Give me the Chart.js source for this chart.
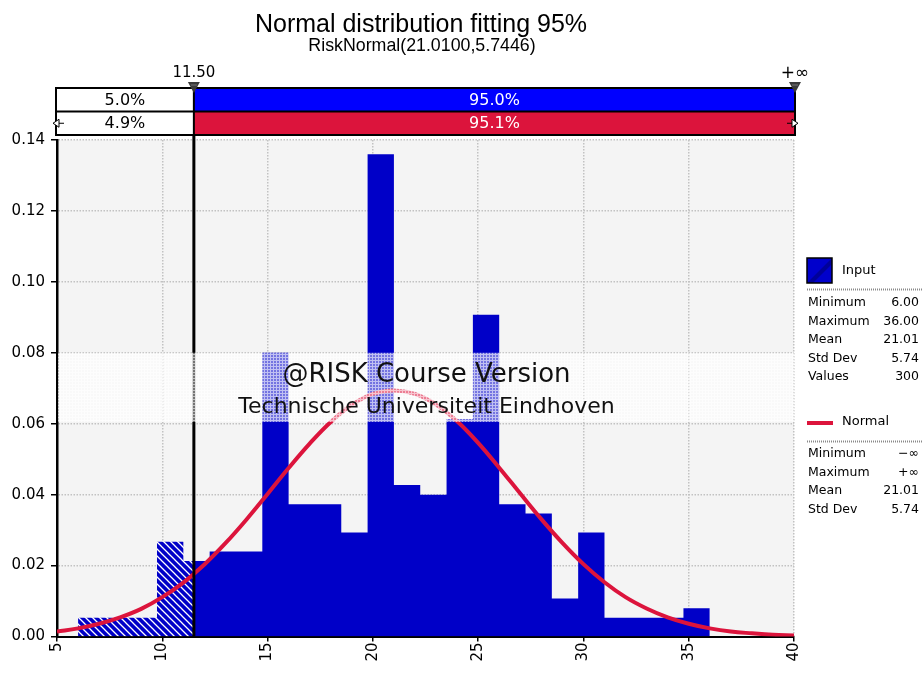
<!DOCTYPE html>
<html><head><meta charset="utf-8">
<script src="https://cdn.jsdelivr.net/npm/chart.js@4/dist/chart.umd.min.js"></script>
<style>html,body{margin:0;padding:0;background:#fff;overflow:hidden}#wrap{width:923px;height:673px;position:relative}</style>
</head><body><div id="wrap"><canvas id="c" width="923" height="673"></canvas></div>
<script>
// ---- data ----
const chartTitle = 'Normal distribution fitting 95%';
const chartSubtitle = 'RiskNormal(21.0100,5.7446)';
const binEdges = [6, 7.25, 8.5, 9.75, 11, 12.25, 13.5, 14.75, 16, 17.25, 18.5, 19.75, 21, 22.25, 23.5, 24.75, 26, 27.25, 28.5, 29.75, 31, 32.25, 33.5, 34.75, 36];
const binDensity = [0.0053, 0.0053, 0.0053, 0.0267, 0.0213, 0.0240, 0.0240, 0.0800, 0.0373, 0.0373, 0.0293, 0.1360, 0.0427, 0.0400, 0.0613, 0.0907, 0.0373, 0.0347, 0.0107, 0.0293, 0.0053, 0.0053, 0.0053, 0.0080];
const fitX = [5, 6, 7, 8, 9, 10, 11, 12, 13, 14, 15, 16, 17, 18, 19, 20, 21, 22, 23, 24, 25, 26, 27, 28, 29, 30, 31, 32, 33, 34, 35, 36, 37, 38, 39, 40];
const fitY = [0.0014, 0.0023, 0.0036, 0.0054, 0.0078, 0.0111, 0.0152, 0.0203, 0.0263, 0.0330, 0.0402, 0.0475, 0.0544, 0.0605, 0.0653, 0.0684, 0.0694, 0.0684, 0.0654, 0.0607, 0.0546, 0.0476, 0.0403, 0.0331, 0.0264, 0.0204, 0.0153, 0.0111, 0.0079, 0.0054, 0.0036, 0.0023, 0.0014, 0.0009, 0.0005, 0.0003];
const cutoffValue = 11.5;
const cutoffLabels = ['11.50', '+\u221E'];
const inputBandPct = ['5.0%', '95.0%'];
const fitBandPct = ['4.9%', '95.1%'];
const xTickRange = [5, 40, 5];      // min, max, step
const yTickRange = [0, 0.14, 0.02]; // min, max, step
const inputStatNames = ['Minimum', 'Maximum', 'Mean', 'Std Dev', 'Values'];
const inputStatValues = ['6.00', '36.00', '21.01', '5.74', '300'];
const fitStatNames = ['Minimum', 'Maximum', 'Mean', 'Std Dev'];
const fitStatValues = ['\u2212\u221E', '+\u221E', '21.01', '5.74'];
const seriesNames = ['Input', 'Normal'];
const watermark = ['@RISK Course Version', 'Technische Universiteit Eindhoven'];

// ---- styles ----
const BLUE = '#0000c8';
const RED = '#dc143c';
const DV = '"DejaVu Sans", Verdana, sans-serif';
const LS = '"Liberation Sans", Arial, sans-serif';

function hatchPattern() {
  const c = document.createElement('canvas'); c.width = 7; c.height = 7;
  const g = c.getContext('2d');
  g.fillStyle = BLUE; g.fillRect(0, 0, 7, 7);
  g.strokeStyle = '#ffffff'; g.lineWidth = 1.3;
  g.beginPath();
  g.moveTo(-1, -1); g.lineTo(8, 8);
  g.moveTo(-1, 6); g.lineTo(1, 8);
  g.moveTo(6, -1); g.lineTo(8, 1);
  g.stroke();
  return c;
}
function meshPattern() {
  const c = document.createElement('canvas'); c.width = 3; c.height = 3;
  const g = c.getContext('2d');
  g.fillStyle = 'rgba(255,255,255,0.45)'; g.fillRect(0, 0, 3, 3);
  g.fillStyle = 'rgba(255,255,255,0.55)'; g.fillRect(0, 0, 3, 1); g.fillRect(0, 1, 1, 2);
  return c;
}

// build histogram outlines from the bins (value of a point holds until the next point)
const hatchedPts = [], solidPts = [];
for (let i = 0; i < binDensity.length; i++) {
  const lo = binEdges[i], hi = binEdges[i + 1];
  if (lo < cutoffValue) hatchedPts.push({x: lo, y: binDensity[i]});
  if (lo < cutoffValue && hi > cutoffValue) solidPts.push({x: cutoffValue, y: binDensity[i]});
  if (lo >= cutoffValue) solidPts.push({x: lo, y: binDensity[i]});
}
hatchedPts.push({x: cutoffValue, y: 0});
solidPts.push({x: binEdges[binEdges.length - 1], y: 0});
const fitPts = fitX.map((x, i) => ({x, y: fitY[i]}));

const ctxPat = document.getElementById('c').getContext('2d');
const hatchFill = ctxPat.createPattern(hatchPattern(), 'repeat');
const meshFill = ctxPat.createPattern(meshPattern(), 'repeat');

function dotted(ctx, x1, y, x2) {
  ctx.save(); ctx.strokeStyle = '#8a8a8a'; ctx.lineWidth = 2; ctx.setLineDash([1, 1]);
  ctx.beginPath(); ctx.moveTo(x1, y); ctx.lineTo(x2, y); ctx.stroke(); ctx.restore();
}

const deco = {
  id: 'deco',
  beforeDraw(chart) {
    const {ctx, chartArea: a} = chart;
    ctx.save();
    ctx.fillStyle = '#ffffff'; ctx.fillRect(0, 0, chart.width, chart.height);
    ctx.fillStyle = '#f4f4f4'; ctx.fillRect(a.left, a.top, a.right - a.left, a.bottom - a.top);
    ctx.restore();
  },
  afterDatasetsDraw(chart) {
    const {ctx, chartArea: a, scales: {x: xs, y: ys}} = chart;
    const xc = xs.getPixelForValue(cutoffValue);
    ctx.save();
    // cutoff line
    ctx.strokeStyle = '#000'; ctx.lineWidth = 3;
    ctx.beginPath(); ctx.moveTo(xc, 84); ctx.lineTo(xc, a.bottom); ctx.stroke();
    // watermark band
    const yTop = ys.getPixelForValue(0.08), yBot = ys.getPixelForValue(0.0605);
    ctx.fillStyle = meshFill;
    ctx.fillRect(a.left + 1, yTop, a.right - a.left - 1, yBot - yTop);
    ctx.fillStyle = '#111';
    ctx.textAlign = 'center'; ctx.textBaseline = 'alphabetic';
    const cx = (a.left + a.right) / 2 + 1;
    ctx.font = '26px ' + DV; ctx.fillText(watermark[0], cx, 382);
    ctx.font = '22px ' + DV; ctx.fillText(watermark[1], cx, 413);
    ctx.restore();
  },
  afterDraw(chart) {
    const {ctx, chartArea: a, scales: {x: xs}} = chart;
    const xc = xs.getPixelForValue(cutoffValue);
    const xl = a.left - 1, xr = a.right + 1;
    ctx.save();
    // title
    ctx.fillStyle = '#000'; ctx.textAlign = 'center'; ctx.textBaseline = 'alphabetic';
    ctx.font = '25px ' + LS; ctx.fillText(chartTitle, 421, 32);
    ctx.font = '17.8px ' + LS; ctx.fillText(chartSubtitle, 422, 51);
    // band rows
    const r1 = 88, r2 = 111.5, r3 = 135;
    ctx.fillStyle = '#fff'; ctx.fillRect(xl, r1, xc - xl, r3 - r1);
    ctx.fillStyle = '#0000ff'; ctx.fillRect(xc, r1, xr - xc, r2 - r1);
    ctx.fillStyle = RED; ctx.fillRect(xc, r2, xr - xc, r3 - r2);
    ctx.strokeStyle = '#000'; ctx.lineWidth = 2;
    ctx.strokeRect(xl, r1, xr - xl, r3 - r1);
    ctx.beginPath(); ctx.moveTo(xl, r2); ctx.lineTo(xr, r2); ctx.stroke();
    ctx.beginPath(); ctx.moveTo(xc, r1); ctx.lineTo(xc, r3); ctx.stroke();
    ctx.font = '16px ' + DV; ctx.textBaseline = 'middle';
    ctx.fillStyle = '#000';
    ctx.fillText(inputBandPct[0], (xl + xc) / 2, (r1 + r2) / 2 + 1);
    ctx.fillText(fitBandPct[0], (xl + xc) / 2, (r2 + r3) / 2 + 1);
    ctx.fillStyle = '#fff';
    ctx.fillText(inputBandPct[1], (xc + xr) / 2, (r1 + r2) / 2 + 1);
    ctx.fillText(fitBandPct[1], (xc + xr) / 2, (r2 + r3) / 2 + 1);
    // cutoff labels + markers
    ctx.fillStyle = '#000'; ctx.textBaseline = 'alphabetic';
    ctx.font = '15px ' + DV;
    ctx.fillText(cutoffLabels[0], xc, 77);
    ctx.font = '17px ' + DV;
    ctx.fillText(cutoffLabels[1], xr, 78);
    [xc, xr].forEach(px => {
      ctx.fillStyle = '#3a3a3a';
      ctx.beginPath(); ctx.moveTo(px - 6, 82); ctx.lineTo(px + 6, 82); ctx.lineTo(px, 93); ctx.closePath(); ctx.fill();
      ctx.strokeStyle = '#777'; ctx.lineWidth = 1;
      ctx.beginPath(); ctx.moveTo(px - 3, 85); ctx.lineTo(px + 3, 85); ctx.stroke();
    });
    // small arrow markers on the fit row
    const ym = (r2 + r3) / 2;
    ctx.fillStyle = '#fff'; ctx.strokeStyle = '#000'; ctx.lineWidth = 1;
    ctx.beginPath(); ctx.moveTo(xl - 3, ym); ctx.lineTo(xl + 3, ym - 4); ctx.lineTo(xl + 3, ym + 4); ctx.closePath(); ctx.fill(); ctx.stroke();
    ctx.beginPath(); ctx.moveTo(xl + 3, ym); ctx.lineTo(xl + 8, ym); ctx.stroke();
    ctx.beginPath(); ctx.moveTo(xr + 3, ym); ctx.lineTo(xr - 3, ym - 4); ctx.lineTo(xr - 3, ym + 4); ctx.closePath(); ctx.fill(); ctx.stroke();
    ctx.beginPath(); ctx.moveTo(xr - 3, ym); ctx.lineTo(xr - 8, ym); ctx.stroke();

    // right-hand legend
    const lx = 807, rx = 919;
    ctx.fillStyle = '#0000cc'; ctx.fillRect(lx, 258, 25, 25);
    ctx.fillStyle = '#000099';
    ctx.beginPath(); ctx.moveTo(lx, 283); ctx.lineTo(lx + 25, 258); ctx.lineTo(lx + 25, 264); ctx.lineTo(lx + 6, 283); ctx.closePath(); ctx.fill();
    ctx.strokeStyle = '#000'; ctx.lineWidth = 1.5; ctx.strokeRect(lx, 258, 25, 25);
    ctx.font = '13px ' + DV; ctx.fillStyle = '#000'; ctx.textBaseline = 'middle'; ctx.textAlign = 'left';
    ctx.fillText(seriesNames[0], 842, 271);
    ctx.font = '12.5px ' + DV;
    dotted(ctx, lx, 289.5, 923);
    inputStatNames.forEach((n, i) => {
      const y = 303 + i * 18.5;
      ctx.textAlign = 'left'; ctx.fillText(n, 808, y);
      ctx.textAlign = 'right'; ctx.fillText(inputStatValues[i], rx, y);
    });
    ctx.strokeStyle = RED; ctx.lineWidth = 4;
    ctx.beginPath(); ctx.moveTo(lx, 423); ctx.lineTo(lx + 26, 423); ctx.stroke();
    ctx.font = '13px ' + DV;
    ctx.textAlign = 'left'; ctx.fillText(seriesNames[1], 842, 422);
    ctx.font = '12.5px ' + DV;
    dotted(ctx, lx, 441.5, 923);
    fitStatNames.forEach((n, i) => {
      const y = 454 + i * 18.5;
      ctx.textAlign = 'left'; ctx.fillText(n, 808, y);
      ctx.textAlign = 'right'; ctx.fillText(fitStatValues[i], rx, y);
    });
    ctx.restore();
  }
};

new Chart(document.getElementById('c'), {
  type: 'line',
  data: {
    datasets: [
      {label: seriesNames[1], data: fitPts, borderColor: RED, borderWidth: 4, pointRadius: 0, fill: false, tension: 0.4, order: 0},
      {label: seriesNames[0], data: solidPts, stepped: 'before', borderWidth: 0, borderColor: BLUE, backgroundColor: BLUE, pointRadius: 0, fill: 'origin', order: 1},
      {label: seriesNames[0] + ' (below cutoff)', data: hatchedPts, stepped: 'before', borderWidth: 0, borderColor: BLUE, backgroundColor: hatchFill, pointRadius: 0, fill: 'origin', order: 2}
    ]
  },
  options: {
    responsive: false,
    animation: false,
    events: [],
    layout: {padding: {top: 140, right: 129, left: 0, bottom: 0}},
    plugins: {legend: {display: false}, tooltip: {enabled: false}, title: {display: false}},
    scales: {
      x: {
        type: 'linear', min: xTickRange[0], max: xTickRange[1],
        afterFit(s) { s.height = 36.5; },
        ticks: {stepSize: xTickRange[2], minRotation: 90, maxRotation: 90, padding: 1, color: '#000', font: {family: DV, size: 15}},
        grid: {color: '#c2c2c2', lineWidth: 1.5, tickLength: 5, tickColor: '#000', tickWidth: 1.5},
        border: {display: true, color: '#000', width: 2, dash: [1.5, 1.5]}
      },
      y: {
        min: yTickRange[0], max: yTickRange[1],
        afterFit(s) { s.width = 57; },
        ticks: {stepSize: yTickRange[2], padding: 6, color: '#000', font: {family: DV, size: 15}, callback: v => Number(v).toFixed(2)},
        grid: {color: '#c2c2c2', lineWidth: 1.5, tickLength: 6, tickColor: '#000', tickWidth: 1.5},
        border: {display: true, color: '#000', width: 2.5, dash: [1.5, 1.5]}
      }
    }
  },
  plugins: [deco]
});
</script>
</body></html>
